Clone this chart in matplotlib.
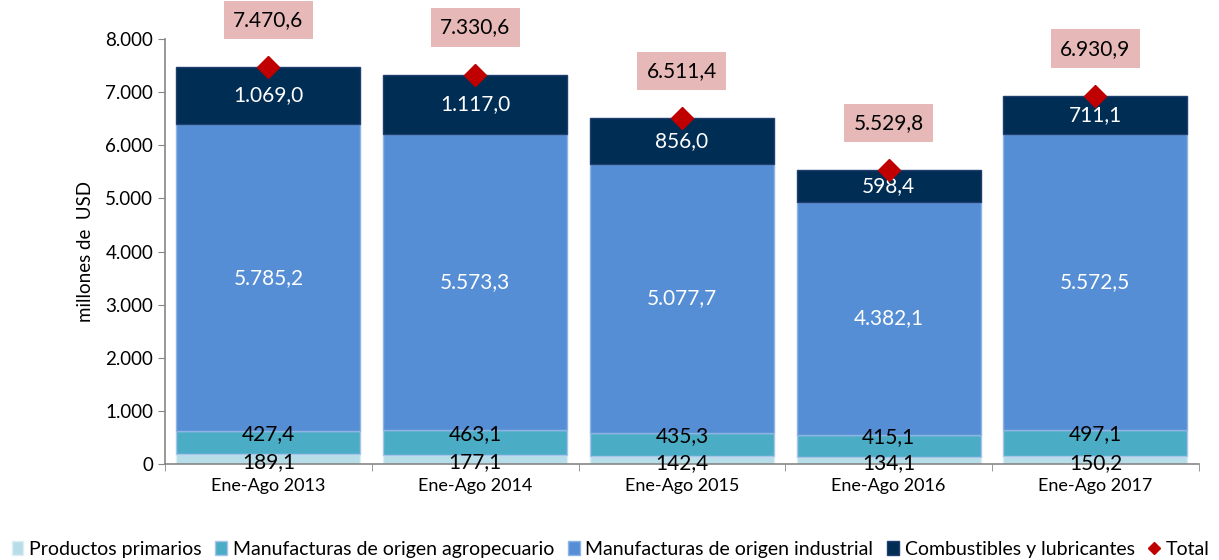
import matplotlib.pyplot as plt
from matplotlib.lines import Line2D
import numpy as np

plt.rcParams['font.family'] = ['Lato', 'DejaVu Sans']

periodos = ["Ene-Ago 2013", "Ene-Ago 2014", "Ene-Ago 2015", "Ene-Ago 2016", "Ene-Ago 2017"]
primarios = [189.1, 177.1, 142.4, 134.1, 150.2]
agro = [427.4, 463.1, 435.3, 415.1, 497.1]
industrial = [5785.2, 5573.3, 5077.7, 4382.1, 5572.5]
combustibles = [1069.0, 1117.0, 856.0, 598.4, 711.1]
total = [7470.6, 7330.6, 6511.4, 5529.8, 6930.9]


def fmt(v):
    s = f"{v:,.1f}"
    return s.replace(",", "X").replace(".", ",").replace("X", ".")


fig = plt.figure(figsize=(12.19, 5.6), dpi=100)
ax = fig.add_axes([0.1354, 0.1714, 0.848, 0.7589])

x = np.arange(len(periodos))
w = 0.89
# name, values, fill, edge, label colour, label nudge (points)
series = [
    ("Productos primarios", primarios, "#B7DEE8", "#DDEFF4", "black", -2),
    ("Manufacturas de origen agropecuario", agro, "#4BACC6", "#A9C4EB", "black", 6),
    ("Manufacturas de origen industrial", industrial, "#558ED5", "#8EB4E3", "white", 0),
    ("Combustibles y lubricantes", combustibles, "#002D54", "#1F3F6E", "white", 0),
]
handles = []
bottom = np.zeros(len(x))
for name, vals, col, ec, tc, dy in series:
    vals = np.array(vals)
    h = ax.bar(x, vals, w, bottom=bottom, color=col, edgecolor=ec, linewidth=1.0, label=name)
    handles.append(h)
    for xi, b, v in zip(x, bottom, vals):
        ax.annotate(fmt(v), (xi, b + v / 2), xytext=(0, dy), textcoords="offset points",
                    ha="center", va="center", fontsize=15, color=tc)
    bottom += vals

ax.plot(x, total, linestyle="none", marker="D", markersize=11, color="#C00000", zorder=5)
handles.append(Line2D([], [], linestyle="none", marker="D", markersize=6, color="#C00000", label="Total"))
for xi, t in zip(x, total):
    ax.annotate(fmt(t), (xi, t), xytext=(0, 34), textcoords="offset points",
                ha="center", va="center", fontsize=15,
                bbox=dict(boxstyle="square,pad=0.45", fc="#E6B9B8", ec="none"))

ax.set_xlim(-0.5, 4.5)
ax.set_ylim(0, 8000)
ax.set_yticks(np.arange(0, 8001, 1000))
ax.set_yticklabels([fmt(v)[:-2] for v in np.arange(0, 8001, 1000)], fontsize=13.5)
ax.set_xticks(x)
ax.set_xticklabels(periodos, fontsize=13)
ax.set_xticks(np.arange(-0.5, 5, 1), minor=True)
ax.tick_params(axis="x", which="major", length=0, pad=10)
ax.tick_params(axis="x", which="minor", length=5, color="#868686")
ax.tick_params(axis="y", length=5, color="#868686")
ax.set_ylabel("millones de  USD", fontsize=13.5, labelpad=8)
for s in ["top", "right"]:
    ax.spines[s].set_visible(False)
for s in ["left", "bottom"]:
    ax.spines[s].set_color("#868686")
    ax.spines[s].set_linewidth(1.2)

ax.legend(handles=handles, loc="center", bbox_to_anchor=(0.431, -0.2), ncol=5, frameon=False,
          fontsize=14, handlelength=0.6, handletextpad=0.3, columnspacing=0.7)

fig.savefig("out.png", dpi=100)
